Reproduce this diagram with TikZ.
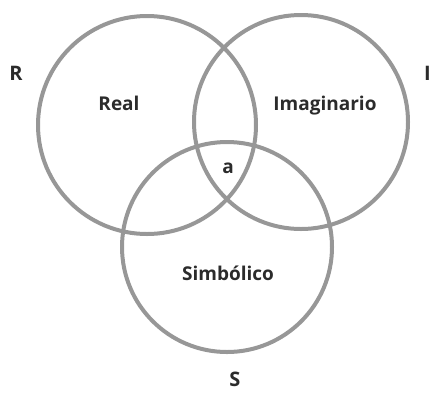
\documentclass[tikz,border=0pt]{standalone}
\usepackage{fontspec}
\setmainfont{Open Sans}
\usepackage{tikz}
\usetikzlibrary{positioning}

\definecolor{ringgray}{HTML}{979797}
\definecolor{labelgray}{HTML}{2B2B2B}

\begin{document}
\begin{tikzpicture}[
    x=1pt, y=-1pt,
    ring/.style={
      circle, draw=ringgray, line width=4pt,
      minimum size=#1, inner sep=0pt,
    },
    inlabel/.style={
      font=\fontsize{19}{22}\selectfont\bfseries,
      text=labelgray, inner sep=0pt, anchor=base,
    },
    outlabel/.style={
      font=\fontsize{20}{24}\selectfont\bfseries,
      text=labelgray, inner sep=0pt, anchor=base,
    },
  ]
  \useasboundingbox (0,0) rectangle (430,392);

  \node[ring=218pt] (real) at (147,125) {};
  \node[ring=214pt] (imag) at (301,122) {};
  \node[ring=210pt] (simb) at (227,247) {};

  \node[inlabel] (real-t) at (119,110) {Real};
  \node[inlabel] (imag-t) at (325,110) {Imaginario};
  \node[inlabel] (simb-t) at (228,280) {Simbólico};
  \node[inlabel] (obj-a) at (228,173) {a};

  \node[outlabel] (r-t) at (16,80) {R};
  \node[outlabel, anchor=base west] (i-t) at (424,80) {I};
  \node[outlabel] (s-t) at (235,386) {S};
\end{tikzpicture}
\end{document}
